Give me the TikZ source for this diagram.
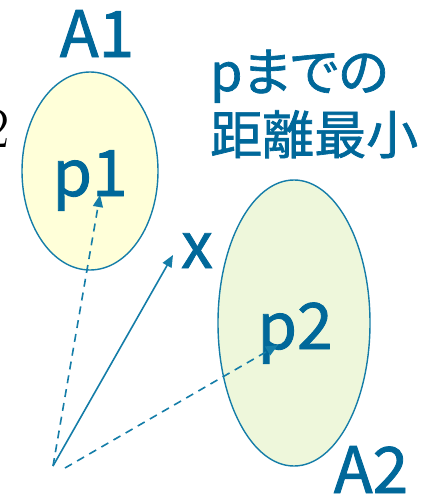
\documentclass[tikz,border=0pt]{standalone}
\usepackage{fontspec}
\setmainfont{Noto Sans CJK JP}
\newfontfamily\serifdigit{Latin Modern Roman}
\newfontfamily\heavysans[FakeBold=1.3]{Noto Sans CJK JP}
\newfontfamily\heavykana[FakeBold=1.3, RawFeature=+palt]{Noto Sans CJK JP}
\usepackage{tikz}
\usetikzlibrary{arrows.meta, positioning, shapes.geometric}
\definecolor{setblue}{HTML}{00689A}
\definecolor{linkblue}{HTML}{147DA8}
\definecolor{setyellow}{HTML}{FFFFD9}
\definecolor{setgreen}{HTML}{EEF7DB}

\begin{document}
\begin{tikzpicture}[
  x=1pt, y=-1pt,
  region/.style={
    ellipse, draw=linkblue, line width=1.4pt, inner sep=0pt
  },
  biglabel/.style={
    font=\heavysans\fontsize{64}{64}\selectfont, text=setblue,
    inner sep=0pt, anchor=base
  },
  jplabel/.style={
    font=\heavysans\fontsize{52}{52}\selectfont, text=setblue,
    inner sep=0pt, anchor=base west
  },
  vec/.style={-{Triangle[length=12pt, width=10pt]}, line width=1.6pt, color=linkblue},
  dashvec/.style={vec, dash pattern=on 8pt off 6pt}
]
\useasboundingbox (0,0) rectangle (429,495);

% Regions
\node[region, fill=setyellow, minimum width=136pt, minimum height=198pt] (A1) at (90,171) {};
\node[region, fill=setgreen, minimum width=152pt, minimum height=286pt] (A2) at (294,323) {};

% Labels
\node[biglabel] (nameA1) at (97,57) {A1};
\node[biglabel] (nameA2) at (371,493) {A2};
\node[biglabel] (namep1) at (90,196) {p1};
\node[biglabel] (namep2) at (295,349) {p2};
\node[biglabel] (namex) at (197,268) {x};
\node[jplabel, font=\heavykana\fontsize{52}{52}\selectfont] (note1) at (210,91) {pまでの};
\node[jplabel] (note2) at (210,154) {距離最小};
\node[font=\serifdigit\fontsize{57}{57}\selectfont, inner sep=0pt, anchor=base east] (cut) at (10,147) {2};

% Points
\coordinate (o) at (53,466);
\coordinate (tp1) at (100,195);
\coordinate (tx) at (173,255);
\coordinate (tp2) at (278,345);

% Arrows
\draw[vec] (o) -- (tx);
\draw[dashvec] (o) -- (tp1);
\draw[dashvec] ([xshift=12pt, yshift=-2pt]o) -- (tp2);

\end{tikzpicture}
\end{document}
